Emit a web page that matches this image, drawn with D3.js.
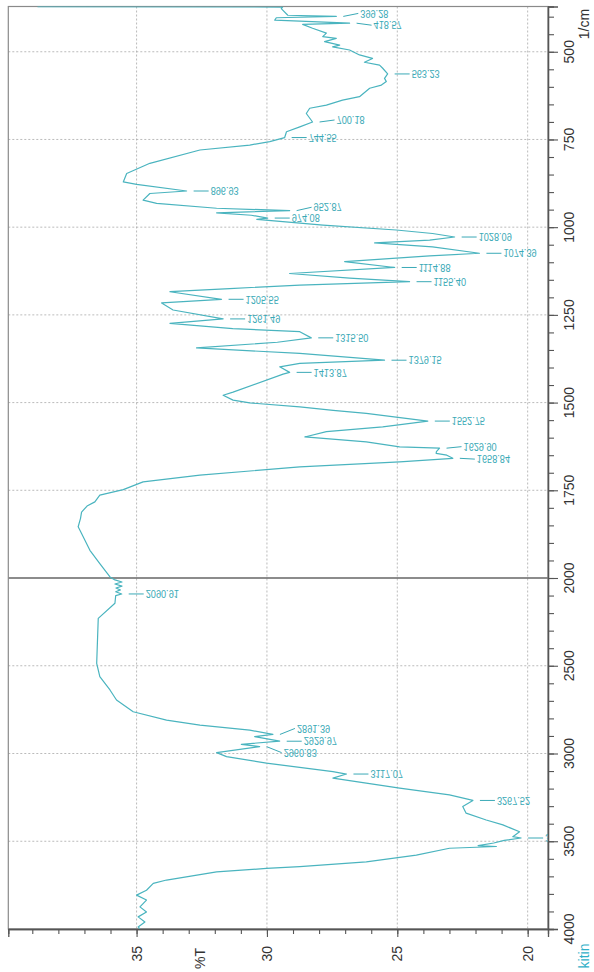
<!DOCTYPE html>
<html>
<head>
<meta charset="utf-8">
<script src="https://cdn.jsdelivr.net/npm/d3@7"></script>
<style>
  html, body { margin: 0; padding: 0; background: #ffffff; }
  svg { display: block; }
</style>
</head>
<body>
<svg id="chart" width="594" height="972"></svg>
<script>
// ---------------- DATA ----------------
const wavenumber = [371.5, 372.5, 377, 396, 399.28, 403, 410, 418.57, 422, 433, 447, 457, 462, 471, 481, 486, 495, 509, 519, 530, 538, 547, 563.23, 576, 585, 595, 604, 628, 638, 652, 661, 676, 700.18, 714, 728, 744.55, 756, 766, 780, 818, 847, 871, 878, 896.93, 904, 923, 932, 946, 952.87, 959, 966, 974.08, 978, 984, 994, 1008, 1018, 1028.09, 1037, 1045, 1056, 1074.39, 1082, 1098, 1114.88, 1132, 1145, 1155.40, 1165, 1175, 1184, 1205.55, 1216, 1236, 1261.49, 1274, 1289, 1298, 1315.50, 1328, 1344, 1360, 1379.15, 1388, 1398, 1413.87, 1419, 1470, 1479, 1493, 1501, 1512, 1522, 1531, 1552.75, 1569, 1583, 1598, 1612, 1626, 1629.90, 1640, 1645, 1650, 1658.84, 1669, 1683, 1707, 1726, 1748, 1764, 1783, 1795, 1812, 1830, 1854, 1873, 1921, 1959, 1997, 2011, 2023, 2034, 2046, 2057, 2068, 2078, 2090.91, 2100, 2144, 2230, 2486, 2562, 2638, 2695, 2762, 2810, 2838, 2867, 2891.39, 2904, 2929.97, 2942, 2948, 2960.83, 2995, 3018, 3055, 3103, 3117.07, 3140, 3169, 3197, 3236, 3267.52, 3302, 3340, 3379, 3407, 3446, 3474, 3481.5, 3495, 3510, 3525, 3530, 3540, 3579, 3617, 3645, 3655, 3674, 3721, 3740, 3779, 3807, 3835, 3874, 3903, 3931, 3960, 3988, 4000];
const transmittance = [38.8, 29.4, 29.45, 29.2, 27.34, 29.64, 29.70, 26.83, 28.63, 28.25, 27.72, 27.86, 27.34, 27.79, 27.21, 27.48, 26.83, 26.45, 25.95, 26.26, 25.68, 25.56, 25.37, 25.49, 25.42, 25.61, 26.06, 26.45, 27.10, 27.72, 28.36, 28.49, 28.25, 28.74, 29.25, 29.32, 29.89, 30.66, 32.57, 34.49, 35.38, 35.51, 35.0, 33.08, 34.49, 34.75, 34.23, 31.93, 29.13, 31.93, 30.6, 29.97, 30.39, 29.39, 27.85, 25.04, 23.65, 22.80, 23.76, 25.87, 23.65, 21.85, 23.76, 27.02, 25.10, 29.13, 26.83, 24.53, 28.74, 31.43, 33.72, 31.74, 34.04, 33.6, 31.68, 33.72, 31.31, 28.74, 28.30, 29.6, 32.70, 28.74, 25.49, 28.74, 29.51, 29.13, 29.38, 31.30, 31.68, 31.30, 30.66, 28.74, 27.46, 26.19, 23.83, 25.56, 27.72, 28.55, 26.19, 24.91, 23.38, 23.5, 23.51, 23.1, 22.87, 24.91, 28.74, 32.57, 34.75, 35.51, 36.41, 36.60, 36.9, 37.11, 37.15, 37.24, 37.11, 36.79, 36.41, 36.02, 35.83, 35.56, 35.83, 35.56, 35.79, 35.62, 35.8, 35.57, 35.8, 35.83, 36.47, 36.53, 36.41, 36.02, 35.77, 35.13, 33.85, 32.57, 30.66, 29.77, 30.47, 29.51, 30.53, 30.98, 30.28, 31.93, 31.55, 30.02, 27.47, 26.95, 27.47, 26.19, 24.91, 23.0, 22.10, 22.49, 22.36, 21.59, 20.95, 20.31, 20.57, 20.25, 20.9, 21.3, 21.9, 21.2, 23.0, 24.27, 26.19, 28.74, 30.02, 31.93, 33.85, 34.36, 34.62, 35.0, 34.62, 34.87, 34.62, 34.94, 34.68, 34.94, 34.87];

const peakLabels = ["399.28", "418.57", "563.23", "700.18", "744.55", "896.93", "952.87", "974.08", "1028.09", "1074.39", "1114.88", "1155.40", "1205.55", "1261.49", "1315.50", "1379.15", "1413.87", "1552.75", "1629.90", "1658.84", "2090.91", "2891.39", "2929.97", "2960.83", "3117.07", "3267.52", "3481.50"];
const peakWavenumber = [399.28, 418.57, 563.23, 700.18, 744.55, 896.93, 952.87, 974.08, 1028.09, 1074.39, 1114.88, 1155.40, 1205.55, 1261.49, 1315.50, 1379.15, 1413.87, 1552.75, 1629.90, 1658.84, 2090.91, 2891.39, 2929.97, 2960.83, 3117.07, 3267.52, 3481.5];
const peakTransmittance = [27.34, 26.83, 25.37, 28.25, 29.32, 33.08, 29.13, 29.97, 22.80, 21.85, 25.10, 24.53, 31.74, 31.68, 28.30, 25.49, 29.13, 23.83, 23.38, 22.87, 35.57, 29.77, 29.51, 30.28, 26.95, 22.10, 20.25];

const tTicksMajor = [35, 30, 25, 20];
const tTicksMinor = d3.range(20, 40, 1);
const wnTicksMajor = [500, 750, 1000, 1250, 1500, 1750, 2000, 2500, 3000, 3500, 4000];
const wnTicksMinor = d3.range(400, 2000, 50).concat(d3.range(2000, 4001, 100));
const wnGrid = [500, 750, 1000, 1250, 1500, 1750, 2500, 3000, 3500];
const sampleName = "kitin";
const xTitle = "%T";
const yUnit = "1/cm";

// ---------------- LAYOUT ----------------
const L = 8.3, R = 548, T = 6.5, B = 929;
const labelDy = { "399.28": -3, "418.57": 2, "700.18": -2, "952.87": -3.4, "2891.39": -6, "2960.83": 6, "1629.90": -1.5, "1658.84": 0.8 };
const curveColor = "#4ab4bf";
const labelColor = "#3aa9b6";
const axisColor = "#555";
const fontFam = "'Liberation Sans', Arial, sans-serif";

const svg = d3.select("#chart");

const x = d3.scaleLinear().domain([39.92, 19.22]).range([L, R]);
const y = d3.scaleLinear().domain([371, 2000, 4000]).range([T, 578, B]);

// clip
svg.append("defs").append("clipPath").attr("id", "plotClip")
  .append("rect").attr("x", L).attr("y", T).attr("width", R - L).attr("height", B - T);

// grid
const grid = svg.append("g").attr("stroke", "#a9a9a9").attr("stroke-width", 0.8).attr("stroke-dasharray", "2,2");
grid.selectAll("line.v").data(tTicksMajor).join("line")
  .attr("x1", d => x(d)).attr("x2", d => x(d)).attr("y1", T).attr("y2", B);
grid.selectAll("line.h").data(wnGrid).join("line")
  .attr("x1", L).attr("x2", R).attr("y1", d => y(d)).attr("y2", d => y(d));

// scale break line at 2000
svg.append("line").attr("x1", L).attr("x2", R).attr("y1", y(2000)).attr("y2", y(2000))
  .attr("stroke", "#666").attr("stroke-width", 1.4);

// frame
svg.append("rect").attr("x", L).attr("y", T).attr("width", R - L).attr("height", B - T)
  .attr("fill", "none").attr("stroke", "#8a8a8a").attr("stroke-width", 1.2);

// right axis (wavenumber)
const axR = svg.append("g").attr("transform", `translate(${R},0)`);
axR.call(d3.axisRight(y).tickValues(wnTicksMinor).tickSize(6).tickFormat(""));
axR.append("g").call(d3.axisRight(y).tickValues(wnTicksMajor).tickSize(10).tickFormat(""));
axR.selectAll(".domain").attr("stroke", axisColor).attr("stroke-width", 1.3);
axR.selectAll(".tick line").attr("stroke", axisColor).attr("stroke-width", 1.1);
axR.selectAll("text").remove();
svg.append("g").selectAll("text").data(wnTicksMajor).join("text")
  .attr("transform", d => `translate(574,${y(d)}) rotate(-90)`)
  .attr("text-anchor", "middle").attr("font-family", fontFam).attr("font-size", 14).attr("fill", "#333")
  .text(d => d);
svg.append("text").attr("transform", `translate(589,24) rotate(-90)`)
  .attr("text-anchor", "middle").attr("font-family", fontFam).attr("font-size", 14).attr("fill", "#333")
  .text(yUnit);
svg.append("text").attr("transform", `translate(589,956) rotate(-90)`)
  .attr("text-anchor", "middle").attr("font-family", fontFam).attr("font-size", 14).attr("fill", "#2fb0c8")
  .text(sampleName);

// bottom axis (%T)
const axB = svg.append("g").attr("transform", `translate(0,${B})`);
axB.call(d3.axisBottom(x).tickValues(tTicksMinor).tickSize(5).tickFormat(""));
axB.append("g").call(d3.axisBottom(x).tickValues(tTicksMajor).tickSize(8).tickFormat(""));
axB.selectAll(".domain").attr("stroke", axisColor).attr("stroke-width", 1.3);
axB.selectAll(".tick line").attr("stroke", axisColor).attr("stroke-width", 1.1);
svg.append("g").selectAll("text").data(tTicksMajor).join("text")
  .attr("transform", d => `translate(${x(d) + 5},946) rotate(-90)`)
  .attr("text-anchor", "end").attr("font-family", fontFam).attr("font-size", 14).attr("fill", "#333")
  .text(d => d);
svg.append("text").attr("transform", `translate(${x(32.55) + 5},948) rotate(-90)`)
  .attr("text-anchor", "end").attr("font-family", fontFam).attr("font-size", 14).attr("fill", "#333")
  .text(xTitle);

// spectrum
const plot = svg.append("g").attr("clip-path", "url(#plotClip)");
const pts = wavenumber.map((w, i) => [transmittance[i], w]);
plot.append("path").datum(pts)
  .attr("fill", "none").attr("stroke", curveColor).attr("stroke-width", 1.2).attr("stroke-linejoin", "round")
  .attr("d", d3.line().x(d => x(d[0])).y(d => y(d[1])));

// peak labels
const lab = plot.append("g");
peakLabels.forEach((txt, i) => {
  const px = x(peakTransmittance[i]);
  const py = y(peakWavenumber[i]);
  const dy = labelDy[txt] || 0;
  lab.append("line").attr("x1", px + 7).attr("y1", py).attr("x2", px + 22).attr("y2", py + dy)
    .attr("stroke", labelColor).attr("stroke-width", 1);
  lab.append("text").attr("transform", `translate(${px + 24},${py + dy}) scale(0.85,-1)`)
    .attr("dominant-baseline", "central").attr("font-family", fontFam).attr("font-size", 10.8)
    .attr("fill", labelColor).text(txt);
});
</script>
</body>
</html>
